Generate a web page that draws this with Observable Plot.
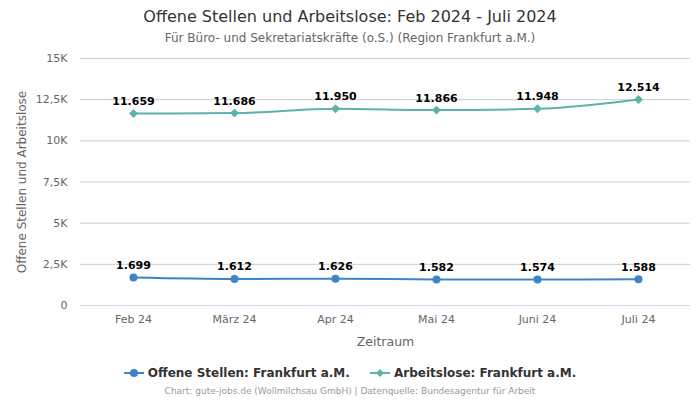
<!DOCTYPE html>
<html><head><meta charset="utf-8">
<script src="https://cdn.jsdelivr.net/npm/d3@7"></script>
<script src="https://cdn.jsdelivr.net/npm/@observablehq/plot@0.6"></script>
<style>
body{margin:0;width:700px;height:400px;background:#fff;font-family:"DejaVu Sans",sans-serif;overflow:hidden}
#title{height:50px;text-align:center;position:relative}
#title .t{position:absolute;left:0;right:0;top:7px;font-size:16px;color:#333}
#title .s{position:absolute;left:0;right:0;top:31px;font-size:12px;color:#666}
#legend{position:relative;height:50px}
#legend .items{position:absolute;top:15px;left:0;right:0;text-align:center;font-size:12px;font-weight:bold;color:#333}
.item{display:inline-block;margin:0 8px;vertical-align:middle}
.item svg{vertical-align:middle;margin-right:4px}
#legend .cap{position:absolute;top:36px;left:0;right:0;text-align:center;font-size:9px;color:#999}
</style></head><body>
<div id="title"><div class="t">Offene Stellen und Arbeitslose: Feb 2024 - Juli 2024</div><div class="s">Für Büro- und Sekretariatskräfte (o.S.) (Region Frankfurt a.M.)</div></div>
<div id="chart"></div>
<div id="legend"><div class="items">
<span class="item"><svg width="20" height="10"><line x1="0" y1="5" x2="20" y2="5" stroke="#3d85c6" stroke-width="2"/><circle cx="10" cy="5" r="4" fill="#3d85c6"/></svg>Offene Stellen: Frankfurt a.M.</span>
<span class="item"><svg width="20" height="10"><line x1="0" y1="5" x2="20" y2="5" stroke="#5cb3a9" stroke-width="2"/><path d="M10 1 L14 5 L10 9 L6 5Z" fill="#5cb3a9"/></svg>Arbeitslose: Frankfurt a.M.</span>
</div><div class="cap">Chart: gute-jobs.de (Wollmilchsau GmbH) | Datenquelle: Bundesagentur für Arbeit</div></div>
<script>
const months = ["Feb 24","März 24","Apr 24","Mai 24","Juni 24","Juli 24"];
const offeneStellen = [1699,1612,1626,1582,1574,1588];
const arbeitslose = [11659,11686,11950,11866,11948,12514];
const yTicks = [0,2500,5000,7500,10000,12500,15000];
const seriesNames = ["Offene Stellen: Frankfurt a.M.","Arbeitslose: Frankfurt a.M."];
const colors = ["#3d85c6","#5cb3a9"];

const fmtNum = v => v.toLocaleString("de-DE");
const fmtK = v => v === 0 ? "0" : (v/1000).toLocaleString("de-DE") + "K";

const os = months.map((m,i)=>({m, v: offeneStellen[i], s: seriesNames[0]}));
const al = months.map((m,i)=>({m, v: arbeitslose[i], s: seriesNames[1]}));

const plot = Plot.plot({
  width: 700, height: 300,
  marginLeft: 80, marginRight: 10, marginTop: 8, marginBottom: 45,
  style: {fontFamily: "DejaVu Sans, sans-serif", fontSize: "11px", color: "#666"},
  x: {type: "point", domain: months, padding: 0.5},
  y: {domain: [0,15000]},
  marks: [
    Plot.gridY(yTicks.filter(d=>d>0), {stroke: "#ccc", strokeOpacity: 1}),
    Plot.ruleY([0], {stroke: "#ccd6eb"}),
    Plot.axisX({tickSize: 0, tickPadding: 10, label: null, fontSize: 11, fill: "#666"}),
    Plot.axisY({ticks: yTicks, tickFormat: fmtK, tickSize: 0, tickPadding: 13, label: null, fontSize: 11, fill: "#666"}),
    Plot.text(["Zeitraum"], {frameAnchor: "bottom", dy: 40, fontSize: 12.5, fill: "#666"}),
    Plot.text(["Offene Stellen und Arbeitslose"], {frameAnchor: "left", textAnchor: "middle", dx: -58, rotate: -90, fontSize: 12, fill: "#666"}),
    Plot.line(os, {x: "m", y: "v", stroke: colors[0], strokeWidth: 2, curve: "monotone-x"}),
    Plot.line(al, {x: "m", y: "v", stroke: colors[1], strokeWidth: 2, curve: "monotone-x"}),
    Plot.dot(os, {x: "m", y: "v", fill: colors[0], r: 4, symbol: "circle"}),
    Plot.dot(al, {x: "m", y: "v", fill: colors[1], r: 4, symbol: "diamond2"}),
    Plot.text(os, {x: "m", y: "v", text: d=>fmtNum(d.v), dy: -12, fontWeight: "bold", fontSize: 11, fill: "#000"}),
    Plot.text(al, {x: "m", y: "v", text: d=>fmtNum(d.v), dy: -12, fontWeight: "bold", fontSize: 11, fill: "#000"})
  ]
});
document.getElementById("chart").appendChild(plot);
</script>
</body></html>
